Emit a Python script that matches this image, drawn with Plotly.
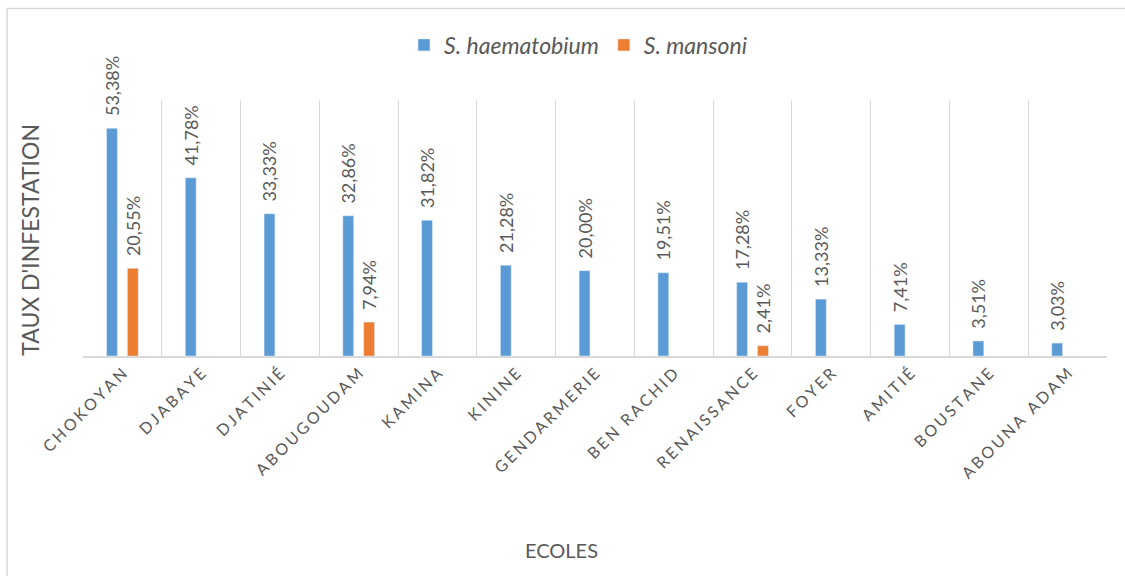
import plotly.graph_objs as go

# Taux d'infestation par école
ecoles = ["CHOKOYAN", "DJABAYE", "DJATINIÉ", "ABOUGOUDAM", "KAMINA", "KININE",
          "GENDARMERIE", "BEN RACHID", "RENAISSANCE", "FOYER", "AMITIÉ",
          "BOUSTANE", "ABOUNA ADAM"]
haematobium = [53.38, 41.78, 33.33, 32.86, 31.82, 21.28, 20.00, 19.51, 17.28,
               13.33, 7.41, 3.51, 3.03]
mansoni = [20.55, None, None, 7.94, None, None, None, None, 2.41, None, None,
           None, None]

grey_text = "#595959"
font_family = "Lato, 'Open Sans', sans-serif"

# Excel-like letter spacing on the category labels
tick_labels = ["\u2006".join(list(e)) for e in ecoles]


def bar_trace(values, name, color):
    return go.Bar(
        x=tick_labels,
        y=values,
        name=name,
        marker=dict(color=color),
        texttemplate="\u00a0\u00a0%{y:.2f}%",
        textposition="outside",
        textangle=-90,
        constraintext="none",
        cliponaxis=False,
        textfont=dict(size=18, color=grey_text, family=font_family),
    )


data = [
    bar_trace(haematobium, "<i>S. haematobium</i>", "#5B9BD5"),
    bar_trace(mansoni, "<i>S. mansoni</i>", "#ED7D31"),
]

layout = go.Layout(
    width=1125,
    height=576,
    separators=", ",
    barmode="group",
    bargap=0.47,
    bargroupgap=0.48,
    plot_bgcolor="white",
    paper_bgcolor="white",
    font=dict(family=font_family, color=grey_text),
    margin=dict(l=83, r=18, t=100, b=220, autoexpand=False),
    showlegend=True,
    legend=dict(
        orientation="h",
        x=0.4834,
        xanchor="center",
        y=1.215,
        yanchor="middle",
        font=dict(size=23, color=grey_text),
        itemwidth=30,
    ),
    xaxis=dict(
        tickson="boundaries",
        showgrid=True,
        gridcolor="#d9d9d9",
        gridwidth=1,
        showline=True,
        linecolor="#d9d9d9",
        linewidth=2,
        ticks="",
        tickangle=-45,
        tickfont=dict(size=16, color=grey_text),
        automargin=False,
    ),
    yaxis=dict(
        range=[0, 60],
        showgrid=False,
        zeroline=False,
        showticklabels=False,
        ticks="",
        automargin=False,
    ),
    annotations=[
        dict(text="TAUX D'INFESTATION", xref="paper", yref="paper",
             x=-0.052, y=0.453, xanchor="center", yanchor="middle",
             textangle=-90, showarrow=False,
             font=dict(size=23, color=grey_text)),
        dict(text="ECOLES", xref="paper", yref="paper",
             x=0.467, y=-0.758, xanchor="center", yanchor="middle",
             showarrow=False, font=dict(size=20, color=grey_text)),
    ],
    shapes=[
        dict(type="rect", xref="paper", yref="paper",
             x0=-0.0742, x1=1.05, y0=-1.1, y1=1.357,
             line=dict(color="#d9d9d9", width=1.5)),
    ],
)

fig = go.Figure(data=data, layout=layout)
fig.write_html("out.html", config={"displayModeBar": False},
               post_script="document.body.style.margin='0';")
